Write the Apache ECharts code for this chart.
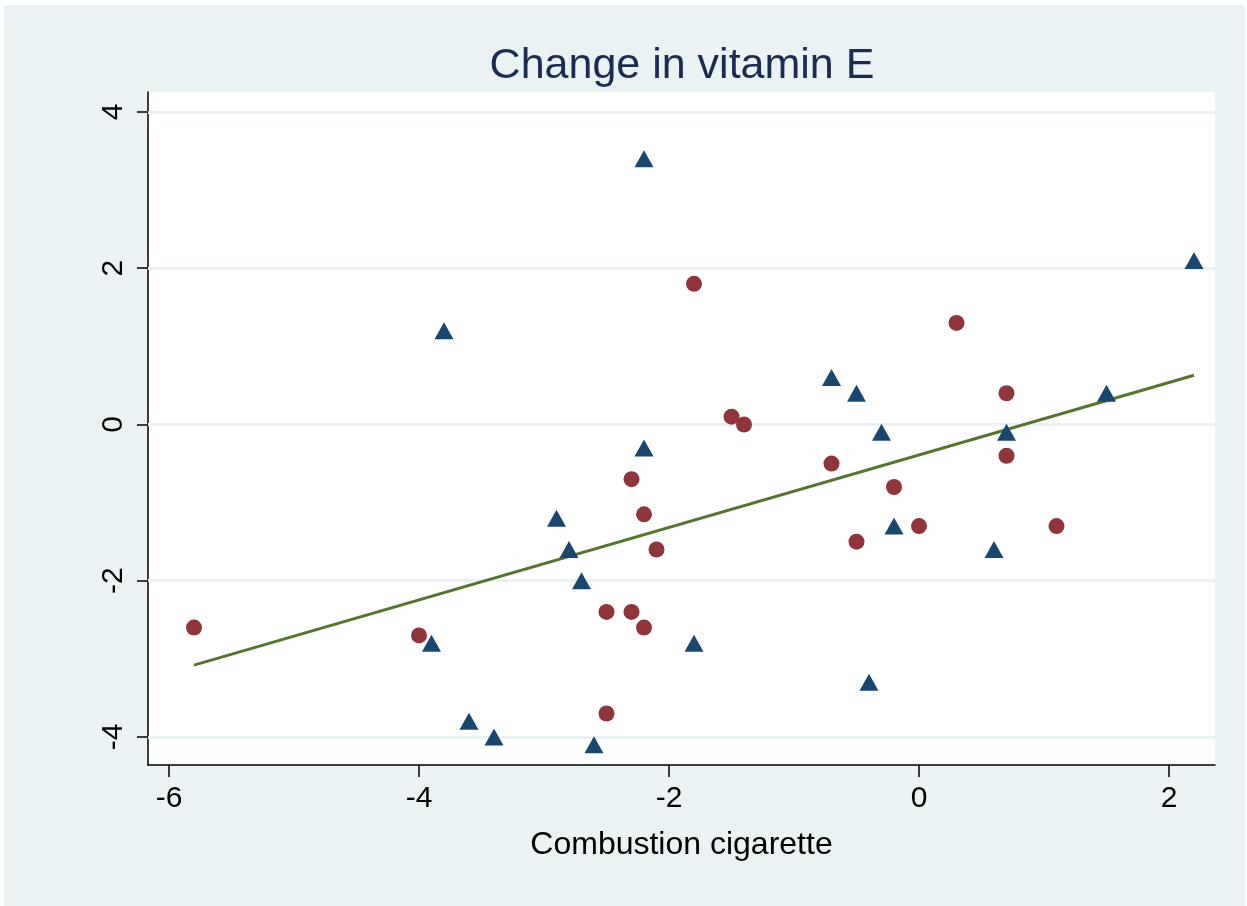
<!DOCTYPE html>
<html>
<head>
<meta charset="utf-8">
<script src="https://cdn.jsdelivr.net/npm/echarts@6/dist/echarts.min.js"></script>
<style>
  body { margin: 0; background: #ffffff; }
  #chart { position: absolute; left: 4px; top: 5px; width: 1241px; height: 901px; }
</style>
</head>
<body>
<div id="chart"></div>
<script>
// combustion cigarette (x) vs change in vitamin E (y)
var triangleX = [-2.2, 2.2, -3.8, -0.7, -0.5, 1.5, -0.3, 0.7, -2.2, -2.9, -0.2, -2.8, 0.6, -2.7, -1.8, -3.9, -0.4, -3.6, -3.4, -2.6];
var triangleY = [3.4, 2.1, 1.2, 0.6, 0.4, 0.4, -0.1, -0.1, -0.3, -1.2, -1.3, -1.6, -1.6, -2.0, -2.8, -2.8, -3.3, -3.8, -4.0, -4.1];
var circleX = [-1.8, 0.3, 0.7, -1.5, -1.4, 0.7, -0.7, -2.3, -0.2, -2.2, 0.0, 1.1, -0.5, -2.1, -2.5, -2.3, -2.2, -5.8, -4.0, -2.5];
var circleY = [1.8, 1.3, 0.4, 0.1, 0.0, -0.4, -0.5, -0.7, -0.8, -1.15, -1.3, -1.3, -1.5, -1.6, -2.4, -2.4, -2.6, -2.6, -2.7, -3.7];
var fitX = [-5.8, 2.2];
var fitY = [-3.08, 0.63];
var xTicks = [-6, -4, -2, 0, 2];
var yTicks = [-4, -2, 0, 2, 4];

function pairs(xs, ys) {
    return xs.map(function (x, i) { return [x, ys[i]]; });
}

var myChart = echarts.init(document.getElementById("chart"));
myChart.setOption({
    backgroundColor: "#eaf2f3",
    animation: false,
    title: {
        text: "Change in vitamin E",
        left: 673,
        top: 35,
        textAlign: "center",
        textStyle: {
            fontFamily: "Liberation Sans, Arial",
            fontWeight: "normal",
            fontSize: 43,
            color: "#1c2b52"
        }
    },
    grid: {
        left: 144,
        top: 87,
        right: 30,
        bottom: 141,
        show: true,
        backgroundColor: "#ffffff",
        borderWidth: 0
    },
    xAxis: {
        type: "value",
        min: -6.168,
        max: 2.368,
        name: "Combustion cigarette",
        nameLocation: "middle",
        nameGap: 64,
        nameTextStyle: { fontFamily: "Liberation Sans, Arial", fontSize: 32, color: "#000" },
        axisLine: { show: true, onZero: false, lineStyle: { color: "#000", width: 1.5 } },
        axisTick: { show: true, length: 12, customValues: xTicks, lineStyle: { color: "#000", width: 1.5 } },
        axisLabel: { customValues: xTicks, margin: 19, fontFamily: "Liberation Sans, Arial", fontSize: 30, color: "#000" },
        splitLine: { show: false }
    },
    yAxis: {
        type: "value",
        min: -4.359,
        max: 4.256,
        axisLine: { show: true, onZero: false, lineStyle: { color: "#000", width: 1.5 } },
        axisTick: { show: true, length: 11, customValues: yTicks, lineStyle: { color: "#000", width: 1.5 } },
        axisLabel: { customValues: yTicks, rotate: 90, margin: 19, fontFamily: "Liberation Sans, Arial", fontSize: 30, color: "#000" },
        splitLine: { show: false }
    },
    series: [
        {
            type: "line",
            data: [],
            silent: true,
            z: 1,
            markLine: {
                silent: true,
                z: 1,
                symbol: "none",
                label: { show: false },
                lineStyle: { color: "#eaf2f3", width: 3, type: "solid" },
                data: yTicks.map(function (v) { return { yAxis: v }; })
            }
        },
        {
            type: "line",
            data: pairs(fitX, fitY),
            showSymbol: false,
            lineStyle: { color: "#55752f", width: 3 },
            z: 2
        },
        {
            type: "scatter",
            data: pairs(circleX, circleY),
            symbol: "circle",
            symbolSize: 16,
            itemStyle: { color: "#90353b", opacity: 1 },
            z: 3
        },
        {
            type: "scatter",
            data: pairs(triangleX, triangleY),
            symbol: "triangle",
            symbolSize: [19, 17],
            itemStyle: { color: "#1a476f", opacity: 1 },
            z: 4
        }
    ]
});
</script>
</body>
</html>
